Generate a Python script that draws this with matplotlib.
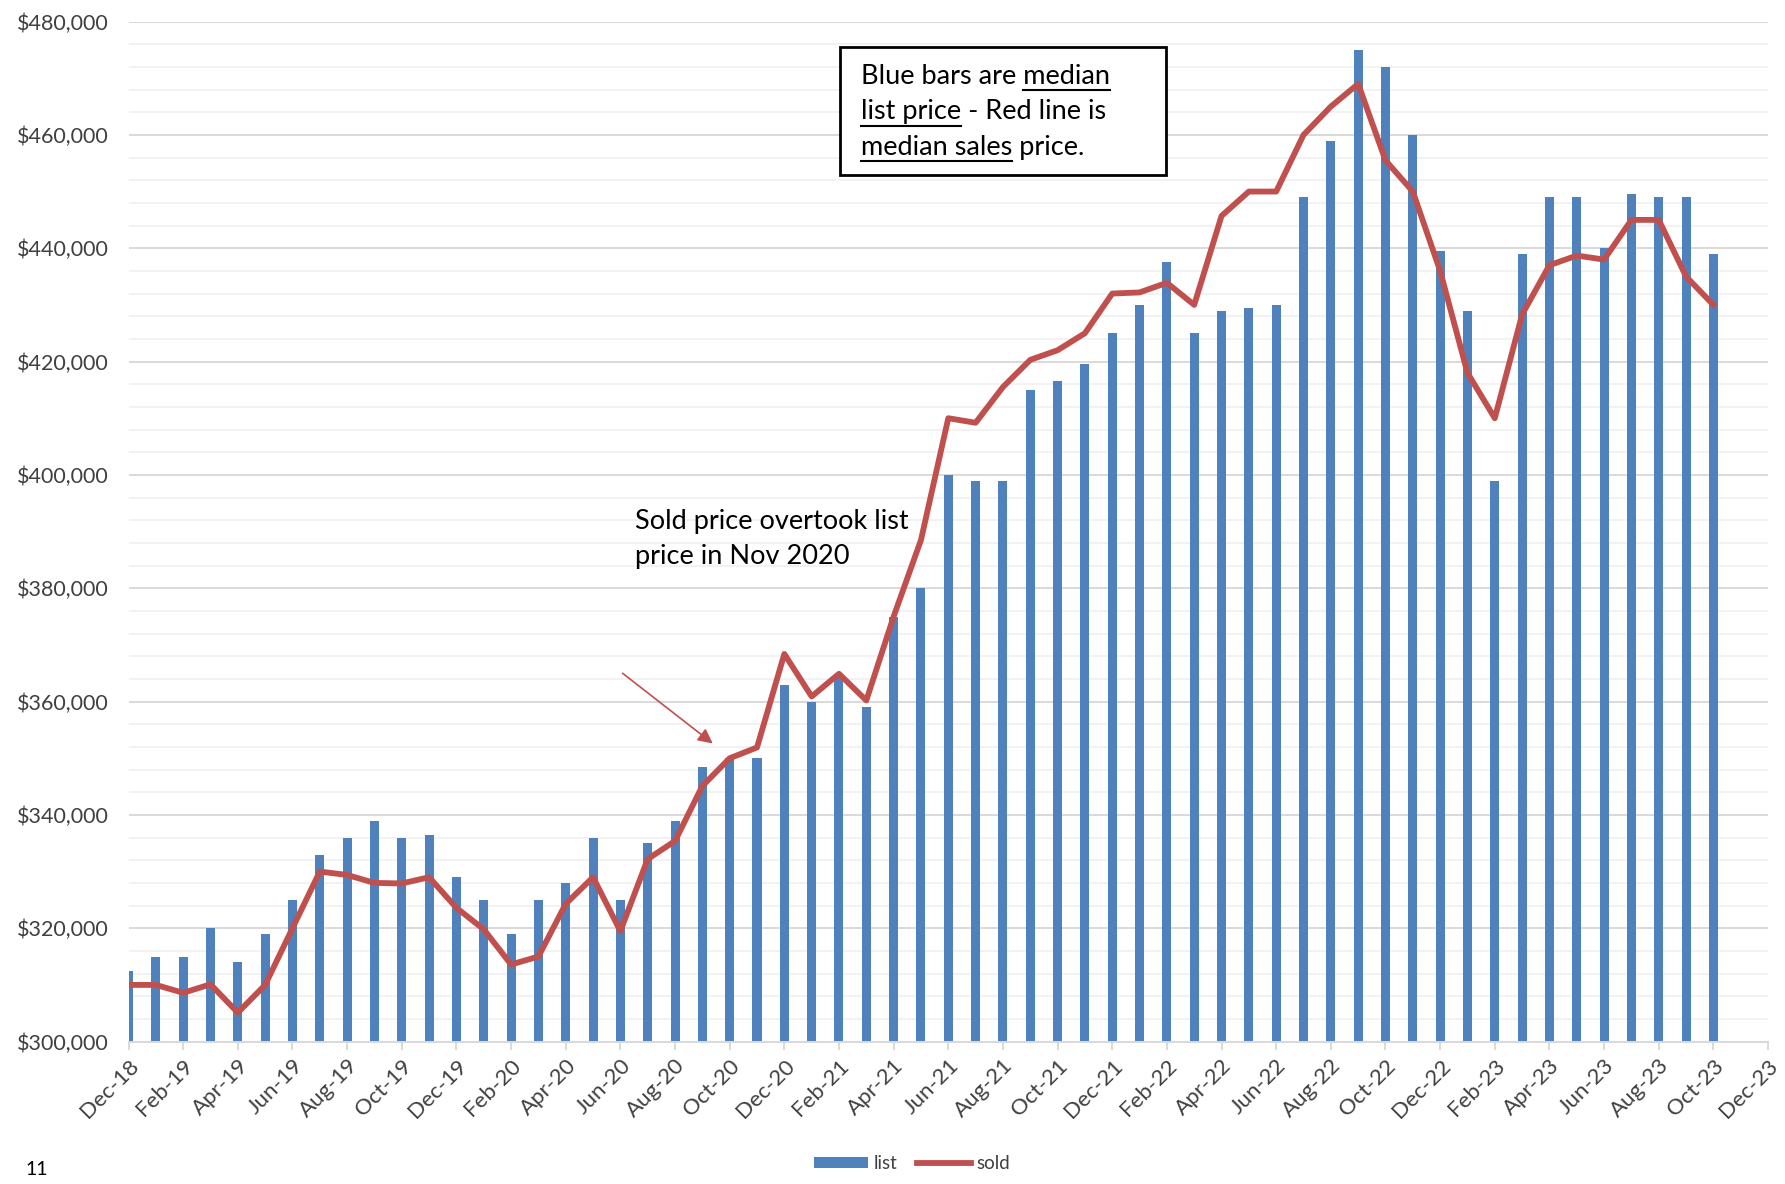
import matplotlib
matplotlib.use("Agg")
import matplotlib.pyplot as plt
from matplotlib.ticker import FuncFormatter, MultipleLocator
from matplotlib.patches import Rectangle, Patch
from matplotlib.lines import Line2D
import pandas as pd

# median list price (bars) and median sold price (line), monthly Dec-18 .. Oct-23
list_price = [312500, 315000, 315000, 320000, 314000, 319000, 325000, 333000, 336000, 339000,
              336000, 336500, 329000, 325000, 319000, 325000, 328000, 336000, 325000, 335000,
              339000, 348500, 350000, 350000, 363000, 360000, 364500, 359000, 375000, 380000,
              400000, 399000, 399000, 415000, 416500, 419500, 425000, 430000, 437500, 425000,
              429000, 429500, 430000, 449000, 459000, 475000, 472000, 460000, 439500, 429000,
              399000, 439000, 449000, 449000, 440000, 449500, 449000, 449000, 439000]
sold_price = [310000, 310000, 308600, 310100, 305100, 310000, 320000, 330000, 329400, 328000,
              327900, 329000, 323600, 319800, 313600, 315000, 324300, 329000, 319500, 332200,
              335400, 345100, 350000, 351900, 368400, 360900, 364900, 360200, 375000, 388500,
              410000, 409200, 415500, 420300, 422000, 425000, 432000, 432200, 433900, 430000,
              445700, 450000, 450000, 460000, 465000, 469000, 455500, 450000, 436000, 418000,
              410000, 428300, 437000, 438700, 438000, 445000, 445000, 435000, 430000]
months = pd.date_range("2018-12-01", periods=61, freq="MS")
tick_labels = [m.strftime("%b-%y") for m in months]

plt.rcParams['font.family'] = ['Lato', 'DejaVu Sans']
BLUE = "#4F81BD"
RED = "#C0504D"

fig = plt.figure(figsize=(17.85, 11.84), dpi=100)
ax = fig.add_axes([0.072, 0.1203, 0.9185, 0.8615])

x = list(range(len(list_price)))
ax.bar(x, list_price, width=0.33, color=BLUE, zorder=2)
ax.plot(x, sold_price, color=RED, lw=4.2, zorder=3, solid_joinstyle="round")

ax.set_xlim(0, 60)
ax.set_ylim(300000, 480000)
ax.yaxis.set_major_locator(MultipleLocator(20000))
ax.yaxis.set_minor_locator(MultipleLocator(4000))
ax.yaxis.set_major_formatter(FuncFormatter(lambda v, p: f"${v:,.0f}"))
ax.grid(axis="y", which="major", color="#d9d9d9", lw=1.4, zorder=0)
ax.grid(axis="y", which="minor", color="#f2f2f2", lw=1.4, zorder=0)
ax.set_axisbelow(True)

ax.set_xticks(range(0, 61, 2))
ax.set_xticklabels(tick_labels[::2], rotation=45, ha="right", rotation_mode="anchor")
ax.tick_params(axis="x", length=6, color="#d9d9d9", width=1.4, labelsize=16, labelcolor="#404040", pad=4)
ax.tick_params(axis="y", length=0, labelsize=15.5, labelcolor="#404040", pad=14)
ax.tick_params(axis="y", which="minor", length=0)

for s in ["top", "right", "left"]:
    ax.spines[s].set_visible(False)
ax.spines["bottom"].set_color("#d9d9d9")
ax.spines["bottom"].set_linewidth(1.4)

# annotation + arrow
ax.text(0.309, 0.510, "Sold price overtook list", transform=ax.transAxes, fontsize=19.5, va="center")
ax.text(0.309, 0.4754, "price in Nov 2020", transform=ax.transAxes, fontsize=19.5, va="center")
ax.annotate("", xy=(21.46, 352300), xytext=(18.0, 365300),
            arrowprops=dict(arrowstyle="-|>", color=RED, lw=1.2, mutation_scale=22))

# boxed note with underlined words
ax.add_patch(Rectangle((0.434, 0.8493), 0.1986, 0.1261, transform=ax.transAxes,
                       fill=True, facecolor="white", edgecolor="black", lw=2, zorder=5))
lines = [("Blue bars are median", "end", "median"),
         ("list price - Red line is", "start", "list price"),
         ("median sales price.", "start", "median sales")]
baselines = [0.9386, 0.9040, 0.8694]
tx = 0.4465
fs = 19.5
for (txt, where, ul), yb in zip(lines, baselines):
    ax.text(tx, yb, txt, transform=ax.transAxes, fontsize=fs, va="baseline", zorder=6)

fig.canvas.draw()
r = fig.canvas.get_renderer()


def width(s):
    t = ax.text(0, 0, s, fontsize=fs)
    w = t.get_window_extent(r).width
    t.remove()
    return w / ax.bbox.width


for (txt, where, ul), yb in zip(lines, baselines):
    wu = width(ul)
    if where == "end":
        x1 = tx + width(txt)
        x0 = x1 - wu
    else:
        x0 = tx
        x1 = tx + wu
    ax.add_line(Line2D([x0, x1], [yb - 0.006, yb - 0.006], transform=ax.transAxes,
                       color="black", lw=1.5, zorder=6))

handles = [Patch(facecolor=BLUE, label="list"), Line2D([], [], color=RED, lw=4.2, label="sold")]
fig.legend(handles=handles, loc="center", bbox_to_anchor=(0.511, 0.017), ncol=2, frameon=False,
           fontsize=13.5, handlelength=2.9, handleheight=0.5, columnspacing=1.0,
           handletextpad=0.3, labelcolor="#404040")
fig.text(0.014, 0.0125, "11", fontsize=14, va="center")

fig.savefig("out.png", dpi=100)
